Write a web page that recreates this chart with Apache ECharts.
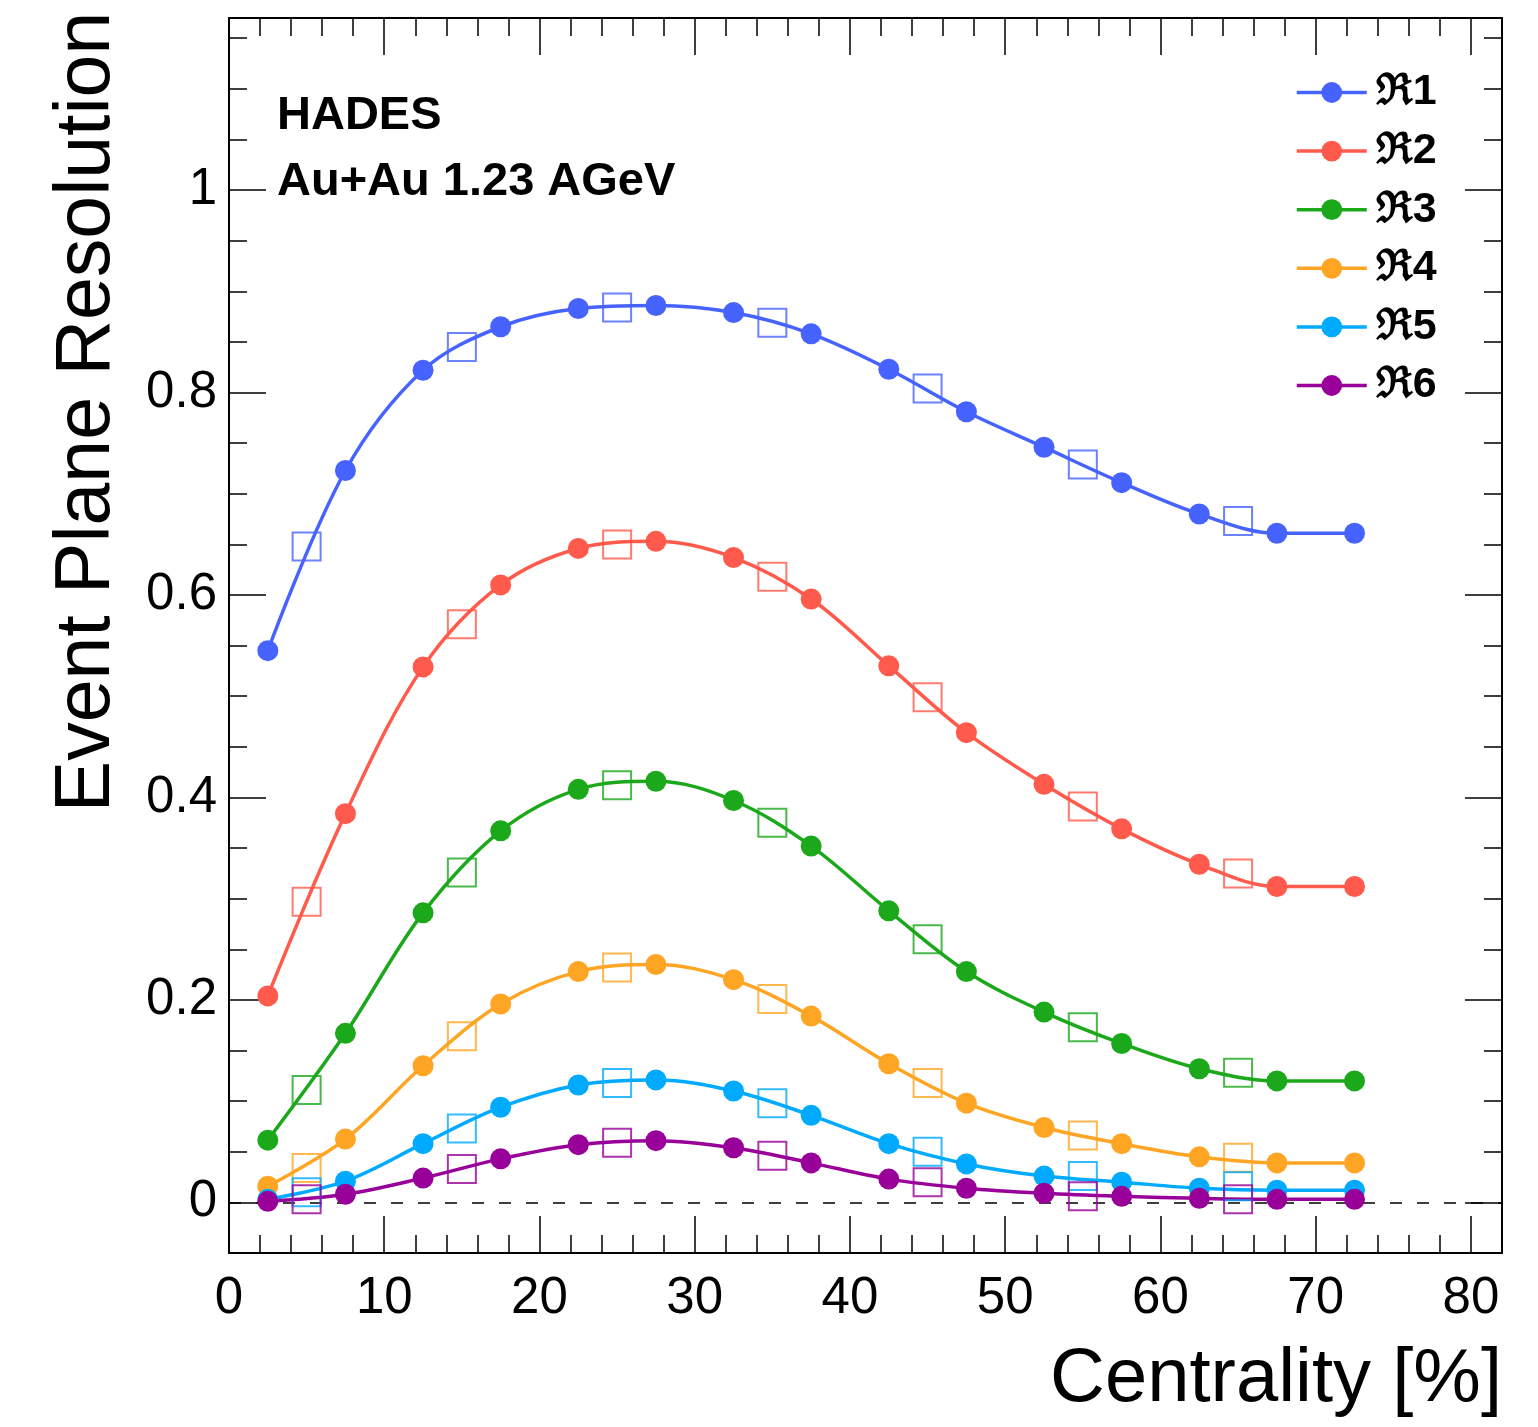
<!DOCTYPE html>
<html>
<head>
<meta charset="utf-8">
<script src="https://cdn.jsdelivr.net/npm/echarts@6/dist/echarts.min.js"></script>
<style>
html,body{margin:0;padding:0;background:#fff;}
#chart{width:1538px;height:1427px;}
</style>
</head>
<body>
<div id="chart"></div>
<script>
// ---- data ----
const circleX = [2.5, 7.5, 12.5, 17.5, 22.5, 27.5, 32.5, 37.5, 42.5, 47.5, 52.5, 57.5, 62.5, 67.5, 72.5];
const squareX = [5, 15, 25, 35, 45, 55, 65];

const r1Circles = [0.545, 0.723, 0.822, 0.865, 0.883, 0.886, 0.879, 0.858, 0.823, 0.781, 0.746, 0.711, 0.680, 0.661, 0.661];
const r1Squares = [0.648, 0.845, 0.884, 0.869, 0.804, 0.729, 0.673];

const r2Circles = [0.204, 0.384, 0.529, 0.610, 0.646, 0.653, 0.637, 0.596, 0.530, 0.464, 0.413, 0.369, 0.334, 0.312, 0.312];
const r2Squares = [0.297, 0.571, 0.650, 0.618, 0.499, 0.391, 0.325];

const r3Circles = [0.0615, 0.167, 0.286, 0.367, 0.408, 0.416, 0.397, 0.352, 0.288, 0.228, 0.188, 0.157, 0.132, 0.120, 0.120];
const r3Squares = [0.111, 0.326, 0.412, 0.375, 0.260, 0.173, 0.128];

const r4Circles = [0.016, 0.0625, 0.135, 0.196, 0.228, 0.235, 0.220, 0.184, 0.137, 0.098, 0.074, 0.058, 0.045, 0.039, 0.039];
const r4Squares = [0.034, 0.164, 0.232, 0.201, 0.118, 0.066, 0.044];

const r5Circles = [0.003, 0.021, 0.058, 0.094, 0.116, 0.121, 0.110, 0.086, 0.058, 0.038, 0.026, 0.020, 0.014, 0.012, 0.012];
const r5Squares = [0.010, 0.073, 0.118, 0.098, 0.050, 0.026, 0.016];

const r6Circles = [0.001, 0.008, 0.024, 0.043, 0.057, 0.061, 0.054, 0.039, 0.023, 0.014, 0.009, 0.006, 0.004, 0.003, 0.003];
const r6Squares = [0.003, 0.033, 0.059, 0.046, 0.020, 0.006, 0.003];

const seriesNames = ['\u211C1', '\u211C2', '\u211C3', '\u211C4', '\u211C5', '\u211C6'];
const colors = ['#4763FF', '#FF5A4B', '#1BA81B', '#FFA524', '#00AAFF', '#990099'];

const xTickLabels = [0, 10, 20, 30, 40, 50, 60, 70, 80];
const yTickLabels = [0, 0.2, 0.4, 0.6, 0.8, 1];

const allCircles = [r1Circles, r2Circles, r3Circles, r4Circles, r5Circles, r6Circles];
const allSquares = [r1Squares, r2Squares, r3Squares, r4Squares, r5Squares, r6Squares];

// ---- chart ----
const FONT = '"Liberation Sans", Arial, Helvetica, sans-serif';
const chart = echarts.init(document.getElementById('chart'), null, {renderer: 'canvas'});

function isMajorY(v) {
  return yTickLabels.some(t => Math.abs(t - v) < 1e-6);
}
function isMajorX(v) {
  return xTickLabels.some(t => Math.abs(t - v) < 1e-6);
}

const axisLineStyle = {color: '#000', width: 2};
const tickStyle = {color: '#000', width: 1.5};

function xAxisDef(pos, labels) {
  return {
    type: 'value', position: pos, min: 0, max: 82, interval: 10,
    axisLine: {show: true, onZero: false, lineStyle: axisLineStyle},
    axisTick: {show: true, inside: true, length: 37, lineStyle: tickStyle},
    minorTick: {show: true, splitNumber: 5, length: 18, lineStyle: tickStyle},
    splitLine: {show: false},
    axisLabel: {
      show: labels, color: '#000', fontSize: 51, fontFamily: FONT, margin: 20,
      formatter: v => isMajorX(v) ? String(v) : ''
    }
  };
}
function yAxisDef(pos, labels) {
  return {
    type: 'value', position: pos, min: -0.05, max: 1.17,
    splitNumber: 6, minInterval: 0.2, maxInterval: 0.2,
    axisLine: {show: true, onZero: false, lineStyle: axisLineStyle},
    axisTick: {show: true, inside: true, length: 37, lineStyle: tickStyle},
    minorTick: {show: true, splitNumber: 4, length: 18, lineStyle: tickStyle},
    splitLine: {show: false},
    axisLabel: {
      show: labels, color: '#000', fontSize: 51, fontFamily: FONT, margin: 12,
      formatter: v => isMajorY(v) ? String(+(+v).toFixed(1)) : ''
    }
  };
}

const series = [];
allCircles.forEach((vals, i) => {
  series.push({
    name: seriesNames[i], type: 'line', xAxisIndex: 0, yAxisIndex: 0,
    data: circleX.map((x, j) => [x, vals[j]]),
    smooth: 0.35,
    symbol: 'circle', symbolSize: 21,
    lineStyle: {color: colors[i], width: 3.5},
    itemStyle: {color: colors[i]},
    z: 3,
    emphasis: {disabled: true}
  });
});
allSquares.forEach((vals, i) => {
  series.push({
    name: seriesNames[i] + ' sq', type: 'scatter', xAxisIndex: 0, yAxisIndex: 0,
    data: squareX.map((x, j) => [x, vals[j]]),
    symbol: 'rect', symbolSize: 28,
    itemStyle: {color: 'rgba(0,0,0,0)', borderColor: colors[i], borderWidth: 2},
    z: 4,
    emphasis: {disabled: true}
  });
});
// zero reference line
series.push({
  name: 'zero', type: 'line', data: [], z: 1,
  markLine: {
    silent: true, symbol: 'none', z: 1,
    label: {show: false},
    lineStyle: {color: '#000', type: [12, 15], width: 1.5},
    data: [{yAxis: 0}]
  }
});

const option = {
  animation: false,
  backgroundColor: '#fff',
  grid: {left: 229, right: 36, top: 18, bottom: 174, containLabel: false},
  xAxis: [xAxisDef('bottom', true), xAxisDef('top', false)],
  yAxis: [yAxisDef('left', true), yAxisDef('right', false)],
  legend: {
    data: seriesNames, orient: 'vertical', left: 1290, top: 66,
    itemWidth: 70, itemHeight: 26, itemGap: 15.6, selectedMode: false,
    lineStyle: {width: 3.5},
    textStyle: {fontSize: 43, fontWeight: 'bold', fontFamily: FONT, color: '#000', lineHeight: 42, padding: [0, 0, 0, 4]}
  },
  graphic: [
    {type: 'text', x: 277, y: 116, style: {text: 'HADES', font: 'bold 47px ' + FONT, fill: '#000', align: 'left', verticalAlign: 'middle'}},
    {type: 'text', x: 277, y: 182, style: {text: 'Au+Au 1.23 AGeV', font: 'bold 47px ' + FONT, fill: '#000', align: 'left', verticalAlign: 'middle'}},
    {type: 'text', x: 1502, y: 1380, style: {text: 'Centrality [%]', font: '76px ' + FONT, fill: '#000', align: 'right', verticalAlign: 'middle'}},
    {type: 'text', x: 88, y: 412, rotation: Math.PI / 2, style: {text: 'Event Plane Resolution', font: '77px ' + FONT, fill: '#000', align: 'center', verticalAlign: 'middle'}}
  ],
  series: series
};
chart.setOption(option);
</script>
</body>
</html>
